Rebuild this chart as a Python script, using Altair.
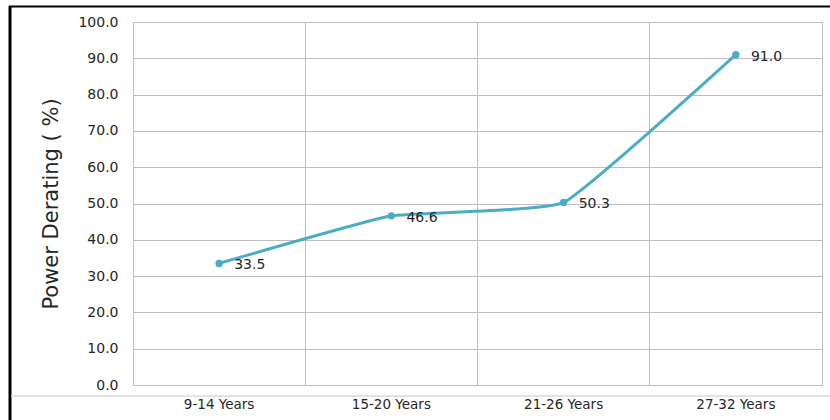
import altair as alt
import pandas as pd

# Power derating by module age group
age_groups = ["9-14 Years", "15-20 Years", "21-26 Years", "27-32 Years"]
derating = [33.5, 46.6, 50.3, 91.0]
y_ticks = [0, 10, 20, 30, 40, 50, 60, 70, 80, 90, 100]

df = pd.DataFrame({"age": age_groups, "derating": derating})

W, H = 689, 363
LINE_COLOR = "#4bacc6"
GRID = "#bdbdbd"
TEXT = "#262626"
TICK_FONT = "DejaVu Sans"
TITLE_FONT = "DejaVu Sans"

x_enc = alt.X(
    "age:N",
    sort=age_groups,
    scale=alt.Scale(type="band", paddingInner=0, paddingOuter=0),
    axis=alt.Axis(
        title=None,
        bandPosition=0,
        grid=True,
        gridColor=GRID,
        gridWidth=1,
        ticks=False,
        domain=False,
        labelAngle=0,
        labelFont=TICK_FONT,
        labelFontSize=13.5,
        labelColor=TEXT,
        labelPadding=12,
    ),
)
y_enc = alt.Y(
    "derating:Q",
    scale=alt.Scale(domain=[0, 100], nice=False, zero=True),
    axis=alt.Axis(
        title="Power Derating ( %)",
        values=y_ticks,
        format=".1f",
        grid=True,
        gridColor=GRID,
        gridWidth=1,
        ticks=False,
        domain=False,
        labelFont=TICK_FONT,
        labelFontSize=14,
        labelColor=TEXT,
        labelPadding=15,
        titleFont=TITLE_FONT,
        titleFontSize=21,
        titleFontWeight="normal",
        titleColor=TEXT,
        titlePadding=16,
    ),
)

base = alt.Chart(df).encode(x=x_enc, y=y_enc)

line = base.mark_line(color=LINE_COLOR, strokeWidth=3, interpolate="cardinal", tension=0.65)
points = base.mark_point(filled=True, color=LINE_COLOR, size=55, opacity=1)
labels = base.mark_text(
    align="left", baseline="middle", dx=15, dy=2,
    font=TICK_FONT, fontSize=14, color=TEXT,
).encode(text=alt.Text("derating:Q", format=".1f"))

# outer frame of the chart
one = pd.DataFrame({"k": [0]})
frame_top = alt.Chart(one).mark_rule(color="#000000", strokeWidth=2).encode(
    x=alt.value(-124), x2=alt.value(W + 10), y=alt.value(-15.5)
)
frame_left = alt.Chart(one).mark_rule(color="#000000", strokeWidth=3).encode(
    x=alt.value(-123), y=alt.value(-16), y2=alt.value(H + 40)
)
frame_bottom = alt.Chart(one).mark_rule(color="#d9d9d9", strokeWidth=1.5).encode(
    x=alt.value(-122), x2=alt.value(W + 10), y=alt.value(H + 11)
)

chart = (
    alt.layer(frame_top, frame_left, frame_bottom, line, points, labels)
    .properties(
        width=W,
        height=H,
        autosize=alt.AutoSizeParams(type="none"),
        padding={"left": 133, "top": 22, "right": 8, "bottom": 35},
        background="#ffffff",
    )
    .configure_view(stroke=GRID, strokeWidth=1)
)

chart.save("out.html", embed_options={"renderer": "svg", "actions": False})
